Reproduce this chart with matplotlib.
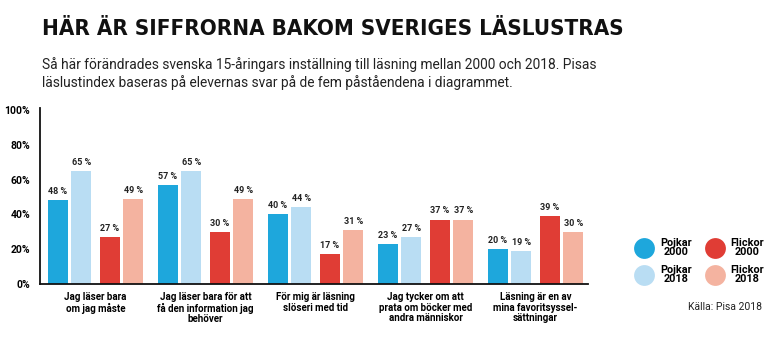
import matplotlib
matplotlib.use("Agg")
import matplotlib.pyplot as plt
from matplotlib.lines import Line2D
import numpy as np

# Data
categories = [
    "Jag läser bara\nom jag måste",
    "Jag läser bara för att\nfå den information jag\nbehöver",
    "För mig är läsning\nslöseri med tid",
    "Jag tycker om att\nprata om böcker med\nandra människor",
    "Läsning är en av\nmina favoritsyssel-\nsättningar",
]
series_names = ["Pojkar\n2000", "Pojkar\n2018", "Flickor\n2000", "Flickor\n2018"]
pojkar_2000 = [48, 57, 40, 23, 20]
pojkar_2018 = [65, 65, 44, 27, 19]
flickor_2000 = [27, 30, 17, 37, 39]
flickor_2018 = [49, 49, 31, 37, 30]
y_ticks = [0, 20, 40, 60, 80, 100]

colors = ["#1ea7dc", "#b9ddf3", "#e03d35", "#f4b3a0"]
offsets = [-0.343, -0.13, 0.13, 0.343]
bar_w = 0.182

plt.rcParams["font.family"] = ["Roboto", "DejaVu Sans"]

fig = plt.figure(figsize=(7.82, 3.38), dpi=100)
ax = fig.add_axes([40 / 782, 1 - 284 / 338, 548 / 782, 174 / 338])

x = np.arange(len(categories))
all_series = [pojkar_2000, pojkar_2018, flickor_2000, flickor_2018]
for values, off, color in zip(all_series, offsets, colors):
    bars = ax.bar(x + off, values, width=bar_w, color=color)
    ax.bar_label(bars, labels=[f"{v} %" for v in values], padding=3,
                 fontsize=6.5, fontweight="bold", color="#222222")

ax.set_xlim(-0.505, 4.476)
ax.set_ylim(0, 100)
ax.set_yticks(y_ticks)
ax.set_yticklabels([f"{t}%" for t in y_ticks], fontsize=7.5, fontweight="bold")
ax.set_xticks(x)
ax.set_xticklabels(categories, fontsize=7, fontweight="bold", linespacing=1.05)
ax.tick_params(axis="both", length=0)
ax.tick_params(axis="y", pad=7)
ax.tick_params(axis="x", pad=6)
for side in ["top", "right"]:
    ax.spines[side].set_visible(False)
for side in ["left", "bottom"]:
    ax.spines[side].set_linewidth(1.3)
    ax.spines[side].set_color("#111111")
ax.spines["left"].set_bounds(0, 101)

fig.text(42 / 782, 1 - 35 / 338, "HÄR ÄR SIFFRORNA BAKOM SVERIGES LÄSLUSTRAS",
         fontsize=16, fontweight="bold", family="DejaVu Sans",
         fontstretch="condensed", color="#111111", va="baseline")
fig.text(42 / 782, 1 - 57 / 338,
         "Så här förändrades svenska 15-åringars inställning till läsning mellan 2000 och 2018. Pisas\n"
         "läslustindex baseras på elevernas svar på de fem påståendena i diagrammet.",
         fontsize=9.9, color="#222222", va="top", linespacing=1.28)

handles = [Line2D([], [], linestyle="none", marker="o", markersize=15,
                  markerfacecolor=c, markeredgecolor="none") for c in colors]
leg = fig.legend(handles, series_names, ncol=2, loc="center",
                 bbox_to_anchor=(700 / 782, 1 - 261 / 338), frameon=False,
                 fontsize=7.8, handletextpad=0.7, columnspacing=1.4,
                 labelspacing=0.65, handlelength=1.5)
for t in leg.get_texts():
    t.set_multialignment("center")
    t.set_fontweight("bold")
    t.set_linespacing(0.95)

fig.text(762 / 782, 1 - 307 / 338, "Källa: Pisa 2018", fontsize=7.5,
         ha="right", va="center", color="#222222")

fig.savefig("out.png", dpi=100)
